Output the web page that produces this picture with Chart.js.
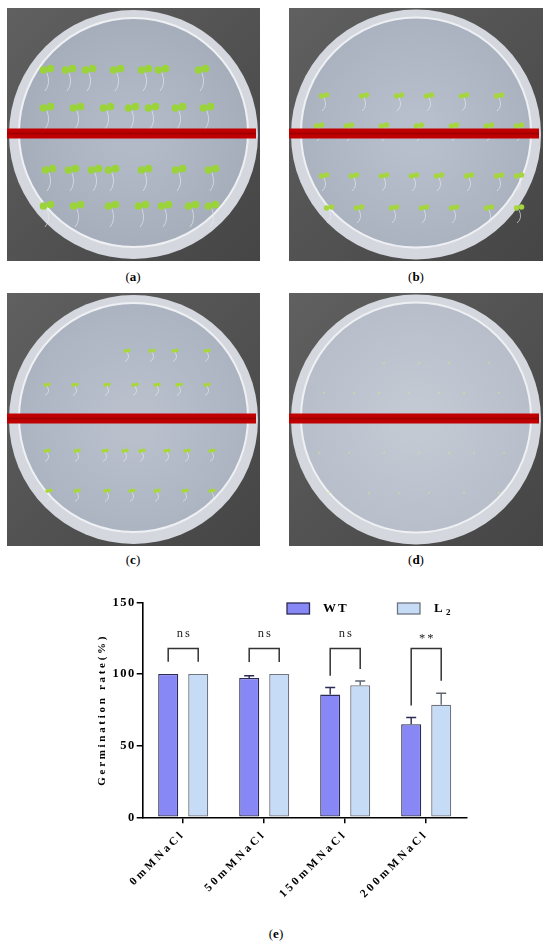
<!DOCTYPE html>
<html>
<head>
<meta charset="utf-8">
<script src="https://cdn.jsdelivr.net/npm/chart.js@4"></script>
<style>
  html, body { margin:0; padding:0; background:#fff; width:550px; height:947px; overflow:hidden; }
  .photo { position:absolute; width:253px; height:253px; }
  .lab { position:absolute; font-family:"Liberation Serif", serif; font-size:13px; color:#000; transform:translateX(-50%); }
  #chartbox { position:absolute; left:0; top:580px; width:550px; height:330px; }
</style>
</head>
<body>
<canvas class="photo" id="pa" width="253" height="253" style="left:7px;top:8px"></canvas>
<canvas class="photo" id="pb" width="254" height="253" style="left:289px;top:8px;width:254px"></canvas>
<canvas class="photo" id="pc" width="253" height="253" style="left:7px;top:293px"></canvas>
<canvas class="photo" id="pd" width="254" height="253" style="left:289px;top:293px;width:254px"></canvas>
<div class="lab" style="left:133px;top:269px">(<b>a</b>)</div>
<div class="lab" style="left:416px;top:269px">(<b>b</b>)</div>
<div class="lab" style="left:133px;top:552px">(<b>c</b>)</div>
<div class="lab" style="left:416px;top:552px">(<b>d</b>)</div>
<div id="chartbox"><canvas id="chart" width="550" height="330"></canvas></div>
<div class="lab" style="left:276px;top:926px">(<b>e</b>)</div>
<script>
// ---------------- data ----------------
const categories = ["0mMNaCl", "50mMNaCl", "150mMNaCl", "200mMNaCl"];
const wtValues = [100, 97.2, 85.6, 65];
const l2Values = [100, 100, 92.1, 78.5];
const wtErrors = [0, 1.6, 5, 4.6];
const l2Errors = [0, 0, 3, 8];
const sigLabels = ["ns", "ns", "ns", "**"];
const bracketTop = [117.7, 117.7, 117.7, 117.7];
const bracketLeftEnd = [108.5, 108.3, 98.8, 78];
const bracketRightEnd = [108.5, 108.3, 103.5, 95.3];
const yTicks = [0, 50, 100, 150];

// ---------------- photo decorations (not chart data) ----------------
function plate(id, rows, size, color, agar) {
  const c = document.getElementById(id), g = c.getContext('2d');
  const W = c.width, H = c.height;
  const bg = g.createLinearGradient(0, 0, W, H);
  bg.addColorStop(0, '#606060'); bg.addColorStop(1, '#454545');
  g.fillStyle = bg; g.fillRect(0, 0, W, H);
  g.beginPath(); g.arc(W/2, H/2, W/2 - 2, 0, Math.PI*2);
  g.fillStyle = '#d4d8de'; g.fill();
  g.beginPath(); g.arc(W/2, H/2 - 2, W/2 - 12, 0, Math.PI*2);
  const ag = g.createRadialGradient(W/2, H/2, 20, W/2, H/2, W/2);
  ag.addColorStop(0, agar[0]); ag.addColorStop(1, agar[1]);
  g.fillStyle = ag; g.fill();
  g.strokeStyle = '#eef0f3'; g.lineWidth = 2; g.stroke();
  rows.forEach(r => {
    r.xs.forEach(x => {
      g.fillStyle = color;
      g.beginPath(); g.arc(x - size*0.5, r.y, size*0.55, 0, Math.PI*2); g.fill();
      g.beginPath(); g.arc(x + size*0.5, r.y - size*0.2, size*0.55, 0, Math.PI*2); g.fill();
      if (size > 3) {
        g.strokeStyle = 'rgba(230,235,240,0.8)'; g.lineWidth = 0.8;
        g.beginPath(); g.moveTo(x, r.y + size*0.4); g.quadraticCurveTo(x + 4, r.y + size*2, x - 2, r.y + size*3); g.stroke();
      }
    });
  });
  g.fillStyle = '#c00000'; g.fillRect(0, H/2 - 6, W - 4, 10);
  g.fillStyle = '#a00000'; g.fillRect(0, H/2 - 2, W - 4, 2);
}
plate('pa', [
  {y:62, xs:[40,62,82,110,138,155,195]}, {y:100, xs:[40,70,100,125,145,172,200]},
  {y:162, xs:[42,65,88,105,138,172,205]}, {y:198, xs:[40,70,105,135,158,185,205]}], 7, '#9bd43a', ['#b3bac7', '#a4acba']);
plate('pb', [
  {y:88, xs:[35,75,110,140,175,210]}, {y:118, xs:[30,60,95,130,165,200,230]},
  {y:168, xs:[35,65,95,125,150,180,210,230]}, {y:200, xs:[40,70,105,135,165,200,230]}], 5, '#a6d63d', ['#b7bfcc', '#a9b1bf']);
plate('pc', [
  {y:58, xs:[120,145,168,200]}, {y:92, xs:[40,68,100,128,150,172,200]},
  {y:158, xs:[40,70,98,118,135,160,180,205]}, {y:198, xs:[42,70,100,125,150,178,205]}], 3.5, '#a8d838', ['#b9c0cc', '#aab2c0']);
plate('pd', [
  {y:70, xs:[95,130,160,200]}, {y:100, xs:[35,65,90,120,150,175,210]},
  {y:160, xs:[30,60,95,130,160,185,215]}, {y:200, xs:[40,80,110,140,175,210]}], 1, '#d6e87a', ['#c3c9d3', '#b6bdc9']);

// ---------------- chart ----------------
const serif = '"Liberation Serif", "Times New Roman", serif';

const errorBarPlugin = {
  id: 'errorBars',
  afterDatasetsDraw(chart) {
    const ctx = chart.ctx, ys = chart.scales.y;
    const sets = [{errs: wtErrors, vals: wtValues, color: '#2b2b55'}, {errs: l2Errors, vals: l2Values, color: '#5e646e'}];
    ctx.save();
    sets.forEach((s, di) => {
      const meta = chart.getDatasetMeta(di);
      meta.data.forEach((bar, j) => {
        if (!s.errs[j]) return;
        const yTop = ys.getPixelForValue(s.vals[j] + s.errs[j]);
        ctx.strokeStyle = s.color; ctx.lineWidth = 1.4;
        ctx.beginPath();
        ctx.moveTo(bar.x, bar.y); ctx.lineTo(bar.x, yTop);
        ctx.moveTo(bar.x - 5, yTop); ctx.lineTo(bar.x + 5, yTop);
        ctx.stroke();
      });
    });
    ctx.restore();
  }
};

const bracketPlugin = {
  id: 'brackets',
  afterDatasetsDraw(chart) {
    const ctx = chart.ctx, ys = chart.scales.y;
    const m0 = chart.getDatasetMeta(0), m1 = chart.getDatasetMeta(1);
    ctx.save();
    ctx.strokeStyle = '#333'; ctx.lineWidth = 1.5; ctx.fillStyle = '#222';
    ctx.letterSpacing = '2px';
    categories.forEach((c, j) => {
      const x1 = m0.data[j].x, x2 = m1.data[j].x;
      const yt = ys.getPixelForValue(bracketTop[j]);
      ctx.beginPath();
      ctx.moveTo(x1, ys.getPixelForValue(bracketLeftEnd[j]));
      ctx.lineTo(x1, yt); ctx.lineTo(x2, yt);
      ctx.lineTo(x2, ys.getPixelForValue(bracketRightEnd[j]));
      ctx.stroke();
      ctx.font = '12.5px ' + serif;
      ctx.textAlign = 'center'; ctx.textBaseline = 'middle';
      const ty = sigLabels[j] === '**' ? yt - 10 : yt - 15;
      ctx.fillText(sigLabels[j], (x1 + x2) / 2 + 1, ty);
    });
    ctx.restore();
  }
};

const legendTitlePlugin = {
  id: 'legendTitle',
  beforeDraw(chart) {
    chart.ctx.letterSpacing = '3px';
    const ys = chart.scales.y;
    if (ys && !ys._spacingPatched) {
      const orig = ys.drawLabels;
      ys.drawLabels = function (area) {
        const prev = this.ctx.letterSpacing;
        this.ctx.letterSpacing = '1.5px';
        orig.call(this, area);
        this.ctx.letterSpacing = prev;
      };
      ys._spacingPatched = true;
    }
  },
  afterDraw(chart) {
    const ctx = chart.ctx;
    ctx.save();
    // legend
    const ds = chart.data.datasets;
    const items = [{x: 287, tx: 323}, {x: 397.5, tx: 434}];
    items.forEach((it, i) => {
      ctx.fillStyle = ds[i].backgroundColor; ctx.strokeStyle = ds[i].borderColor; ctx.lineWidth = 1.3;
      ctx.fillRect(it.x, 23, 22.5, 11); ctx.strokeRect(it.x, 23, 22.5, 11);
      ctx.fillStyle = '#000'; ctx.font = 'bold 13px ' + serif;
      ctx.textAlign = 'left'; ctx.textBaseline = 'middle'; ctx.letterSpacing = '2px';
      ctx.fillText(ds[i].label === 'WT' ? 'WT' : 'L', it.tx, 29);
      if (i === 1) {
        ctx.font = 'bold 9px ' + serif;
        ctx.fillText('2', it.tx + 12, 33);
      }
    });
    // y title
    ctx.translate(102, (chart.chartArea.top + chart.chartArea.bottom) / 2);
    ctx.rotate(-Math.PI / 2);
    ctx.font = 'bold 11px ' + serif; ctx.letterSpacing = '2.7px';
    ctx.textAlign = 'center'; ctx.textBaseline = 'middle';
    ctx.fillText('Germination rate(%)', 0, 0);
    ctx.restore();
  }
};

new Chart(document.getElementById('chart'), {
  type: 'bar',
  data: {
    labels: categories,
    datasets: [
      {label: 'WT', data: wtValues, backgroundColor: '#8787f6', borderColor: '#2b2b55', borderWidth: 1.3, borderSkipped: false,
       categoryPercentage: 0.741, barPercentage: 0.667},
      {label: 'L2', data: l2Values, backgroundColor: '#c6dcf6', borderColor: '#6e7480', borderWidth: 1.3, borderSkipped: false,
       categoryPercentage: 0.741, barPercentage: 0.667}
    ]
  },
  options: {
    responsive: false,
    animation: false,
    devicePixelRatio: 1,
    layout: { padding: { left: 0, right: 83.3, top: 22.3, bottom: 0 } },
    plugins: { legend: { display: false }, tooltip: { enabled: false } },
    scales: {
      y: {
        min: 0, max: 150,
        afterFit(s) { s.width = 142.7; },
        afterBuildTicks(s) { s.ticks = yTicks.map(v => ({value: v})); },
        border: { color: '#000', width: 1.6 },
        grid: { drawOnChartArea: false, drawTicks: true, tickLength: 6, color: '#000', lineWidth: 1.5 },
        ticks: { font: { family: serif, size: 12.5, weight: 'bold' }, color: '#000', padding: 1 }
      },
      x: {
        afterFit(s) { s.height = 92.7; },
        border: { color: '#000', width: 1.6 },
        grid: { offset: false, drawOnChartArea: false, drawTicks: true, tickLength: 6, color: '#000', lineWidth: 1.5 },
        ticks: { font: { family: serif, size: 11.5, weight: 'bold' }, color: '#000', maxRotation: 45, minRotation: 45, autoSkip: false, padding: 4 }
      }
    }
  },
  plugins: [errorBarPlugin, bracketPlugin, legendTitlePlugin]
});
</script>
</body>
</html>
